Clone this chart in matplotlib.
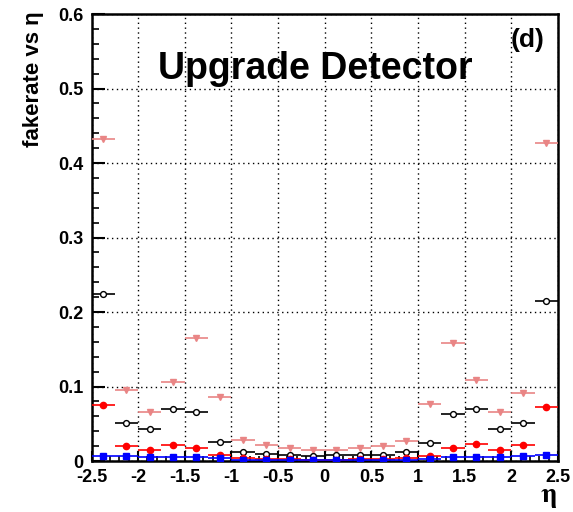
import numpy as np
import matplotlib.pyplot as plt
from matplotlib.ticker import MultipleLocator

# eta bins: 20 bins of width 0.25 between -2.5 and 2.5
eta_lo = -2.5
eta_width = 0.25
n_bins = 20
eta = eta_lo + eta_width * (np.arange(n_bins) + 0.5)

# fake rate per eta bin for each selection
fake_pink = [0.432, 0.0955, 0.0662, 0.106, 0.165, 0.0865, 0.028, 0.0215, 0.0168, 0.0150,
             0.0150, 0.0168, 0.0206, 0.027, 0.077, 0.159, 0.109, 0.0658, 0.091, 0.427]
fake_black = [0.224, 0.0514, 0.0428, 0.0698, 0.0653, 0.0252, 0.0125, 0.0098, 0.0085, 0.0070,
              0.0076, 0.0076, 0.0085, 0.0116, 0.0237, 0.063, 0.0698, 0.0423, 0.0505, 0.215]
fake_red = [0.0748, 0.0207, 0.0153, 0.022, 0.018, 0.0082, 0.0036, 0.0027, 0.0025, 0.0020,
            0.0020, 0.0022, 0.0025, 0.0042, 0.0070, 0.018, 0.023, 0.0153, 0.0212, 0.073]
fake_blue = [0.0068, 0.0068, 0.0054, 0.0055, 0.0060, 0.0040, 0.0015, 0.0012, 0.0010, 0.0010,
             0.0010, 0.0010, 0.0012, 0.0015, 0.0030, 0.0054, 0.0059, 0.0059, 0.0063, 0.0080]

plt.rcParams['font.family'] = ['Liberation Sans', 'DejaVu Sans']
plt.rcParams['font.weight'] = 'bold'
plt.rcParams['mathtext.fontset'] = 'stix'

fig = plt.figure(figsize=(5.73, 5.12), dpi=100)
ax = fig.add_axes([0.1597, 0.0996, 0.8141, 0.8730])

xerr = eta_width / 2
ax.errorbar(eta, fake_pink, xerr=xerr, fmt='v', color='#e98585', ecolor='#e98585',
            markersize=3.8, elinewidth=1.2, zorder=3)
ax.errorbar(eta, fake_black, xerr=xerr, fmt='o', color='black', markerfacecolor='white',
            markersize=4.2, markeredgewidth=1.0, elinewidth=1.2, zorder=4)
ax.errorbar(eta, fake_red, xerr=xerr, fmt='o', color='#ff0000', markersize=4.5,
            elinewidth=1.2, zorder=5)
ax.errorbar(eta, fake_blue, xerr=xerr, fmt='s', color='#0000ff', markersize=4,
            elinewidth=1.2, zorder=6)

ax.set_xlim(-2.5, 2.5)
ax.set_ylim(0, 0.6)

ax.xaxis.set_major_locator(MultipleLocator(0.5))
ax.xaxis.set_minor_locator(MultipleLocator(0.1))
ax.yaxis.set_major_locator(MultipleLocator(0.1))
ax.yaxis.set_minor_locator(MultipleLocator(0.02))

ax.xaxis.set_major_formatter(plt.FuncFormatter(lambda v, p: f'{v:g}'))
ax.yaxis.set_major_formatter(plt.FuncFormatter(lambda v, p: f'{v:g}'))

ax.tick_params(axis='x', which='major', direction='in', length=7, width=1.5,
               labelsize=13, pad=6)
ax.tick_params(axis='x', which='minor', direction='in', length=3.5, width=1.2)
ax.tick_params(axis='y', which='major', direction='in', length=9.5, width=1.5,
               labelsize=13, pad=6)
ax.tick_params(axis='y', which='minor', direction='in', length=5, width=1.2)
for lab in ax.get_xticklabels() + ax.get_yticklabels():
    lab.set_fontweight('bold')

ax.grid(True, which='major', color='black', linestyle=(0, (1, 2.5)), linewidth=1.0)
ax.set_axisbelow(True)

for s in ax.spines.values():
    s.set_linewidth(1.8)

ax.text(0.48, 0.877, 'Upgrade Detector', transform=ax.transAxes, ha='center',
        va='center', fontsize=27, fontweight='bold')
ax.text(0.935, 0.943, '(d)', transform=ax.transAxes, ha='center', va='center',
        fontsize=19, fontweight='bold')

fig.text(0.058, 0.977, 'fakerate vs \u03b7', rotation=90, ha='center', va='top',
         fontsize=16, fontweight='bold')
fig.text(0.957, 0.004, r'$\mathrm{\eta}$', ha='center', va='bottom', fontsize=20)

fig.savefig('out.png', dpi=100)
